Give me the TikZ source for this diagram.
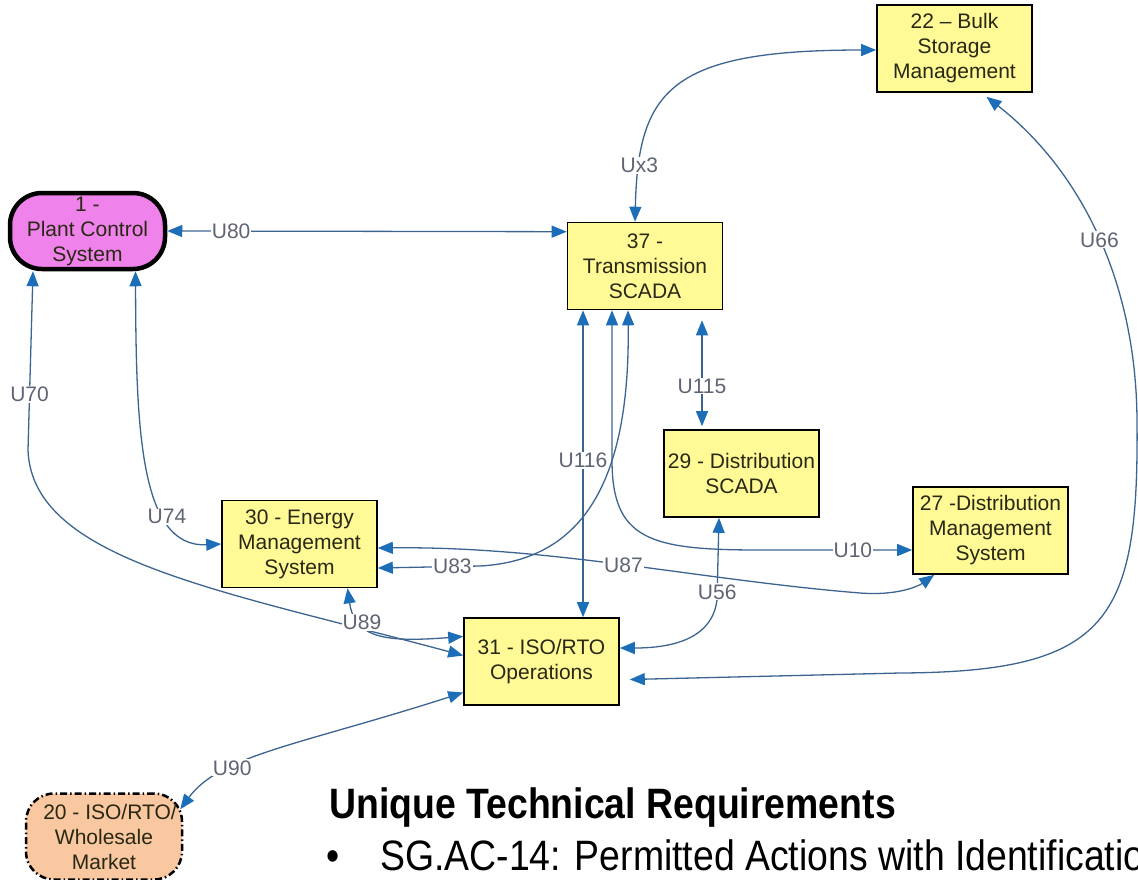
\documentclass[tikz,border=0pt]{standalone}
\usepackage{fontspec}
\setmainfont{Liberation Sans}
\newfontfamily\narrowfont[FakeStretch=0.88]{Liberation Sans}
\usetikzlibrary{arrows.meta,calc}
\definecolor{boxyellow}{RGB}{255,250,150}
\definecolor{plantpink}{RGB}{240,130,235}
\definecolor{peach}{RGB}{249,199,160}
\definecolor{linecol}{RGB}{60,100,145}
\definecolor{tipcol}{RGB}{28,110,185}
\definecolor{lblcol}{RGB}{95,100,115}
\definecolor{boxtext}{RGB}{40,40,20}
\begin{document}
\begin{tikzpicture}[x=1pt,y=-1pt,
  >={Triangle[length=15pt,width=12pt,color=tipcol]},
  box/.style={draw=black, line width=1.6pt, fill=boxyellow, minimum width=155pt, minimum height=87pt,
    inner sep=0pt, align=center, text=boxtext, font=\fontsize{21pt}{25pt}\selectfont},
  pill/.style={box, fill=plantpink, rounded corners=32pt, line width=4.5pt, minimum width=155pt, minimum height=76pt},
  market/.style={box, fill=peach, rounded corners=28pt, line width=2.5pt,
    dash pattern=on 7pt off 3pt on 1.5pt off 3pt, minimum width=156pt, minimum height=86pt},
  conn/.style={draw=linecol, line width=1.3pt, <->},
  lbl/.style={fill=white, inner sep=1pt, text=lblcol, font=\fontsize{21pt}{25pt}\selectfont},
  bigtext/.style={anchor=base west, inner sep=0pt, text=black, font=\narrowfont\fontsize{42.5pt}{50pt}\selectfont}
]
\clip (0,0) rectangle (1138,879);
\fill[white] (0,0) rectangle (1138,879);

% nodes
\node[box] (n22) at (954.5,48.5) {22 – Bulk\\Storage\\Management};
\node[pill] (n1) at (87.5,231) {1 -\\Plant Control\\System};
\node[box] (n37) at (645,266) {37 -\\Transmission\\SCADA};
\node[box] (n29) at (741.5,473.5) {29 - Distribution\\SCADA};
\node[box] (n27) at (990.5,530.5) {27 -Distribution\\Management\\System};
\node[box] (n30) at (299.5,544) {30 - Energy\\Management\\System};
\node[box] (n31) at (541.5,661.5) {31 - ISO/RTO\\Operations};
\node[market] (n20) at (104,836.5) {\hspace*{12pt}20 - ISO/RTO/\\Wholesale\\Market};

% connectors
\draw[conn] (n1.east) -- node[lbl,pos=0.16]{U80} ($(n37.north west)+(0,10)$);
\draw[conn] ($(n37.north)+(-10,0)$) .. controls (638,90) and (670,50) .. node[lbl,pos=0.16]{Ux3} ($(n22.west)+(0,1.5)$);
\draw[conn] ($(n22.south)+(32,4)$) .. controls (1080,170) and (1136,280) .. node[lbl,pos=0.52]{U66} (1137,420)
   .. controls (1139,620) and (1110,672) .. (900,673) -- ($(n31.east)+(10,18)$);
\draw[conn] ($(n1.south)+(-54.5,0)$) -- node[lbl,pos=0.69]{U70} (28,450) .. controls (32,560) and (220,590) .. ($(n31.west)+(0,-6)$);
\draw[conn] ($(n1.south)+(48,0)$) .. controls (136,430) and (140,548) .. node[lbl,pos=0.7]{U74} (n30.west);
\draw[conn] ($(n30.south)+(48,0)$) .. controls (355,640) and (390,642) .. node[lbl,pos=0.3]{U89} ($(n31.west)+(0,-25)$);
\draw[conn] ($(n31.west)+(0,31)$) .. controls (300,745) and (220,755) .. node[lbl,pos=0.68]{U90} ($(n20.north east)+(-3,17)$);
\draw[conn] ($(n30.east)+(0,4)$) .. controls (550,546) and (700,580) .. node[lbl,pos=0.5]{U87} (860,593)
   .. controls (900,596) and (920,585) .. ($(n27.south west)+(22,0)$);
\draw[conn] ($(n37.south)+(-33,0)$) -- (612,460) .. controls (612,540) and (650,550) .. (760,550) -- node[lbl,pos=0.61]{U10} ($(n27.west)+(0,19.5)$);
\draw[conn] ($(n37.south)+(-17,0)$) .. controls (630,470) and (590,560) .. (480,566) -- node[lbl,pos=0.27]{U83} ($(n30.east)+(0,24)$);
\draw[conn] ($(n37.south)+(-62,0)$) -- node[lbl,pos=0.49]{U116} ($(n31.north)+(41.5,0)$);
\draw[conn] ($(n37.south)+(57,10)$) -- node[lbl,pos=0.62]{U115} ($(n29.north)+(-39.5,-3)$);
\draw[conn] ($(n29.south)+(-22.5,0)$) -- node[lbl,pos=0.9]{U56} (717,600) .. controls (712,640) and (670,648) .. ($(n31.east)+(0,-13.5)$);

% text
\node[bigtext, font=\narrowfont\bfseries\fontsize{42.5pt}{50pt}\selectfont] (title) at (329,818) {Unique Technical Requirements};
\node[bigtext, anchor=base] (bullet) at (333,870) {•};
\node[bigtext] (req) at (380,870) {SG.AC-14: Permitted Actions with Identification};
\end{tikzpicture}
\end{document}
